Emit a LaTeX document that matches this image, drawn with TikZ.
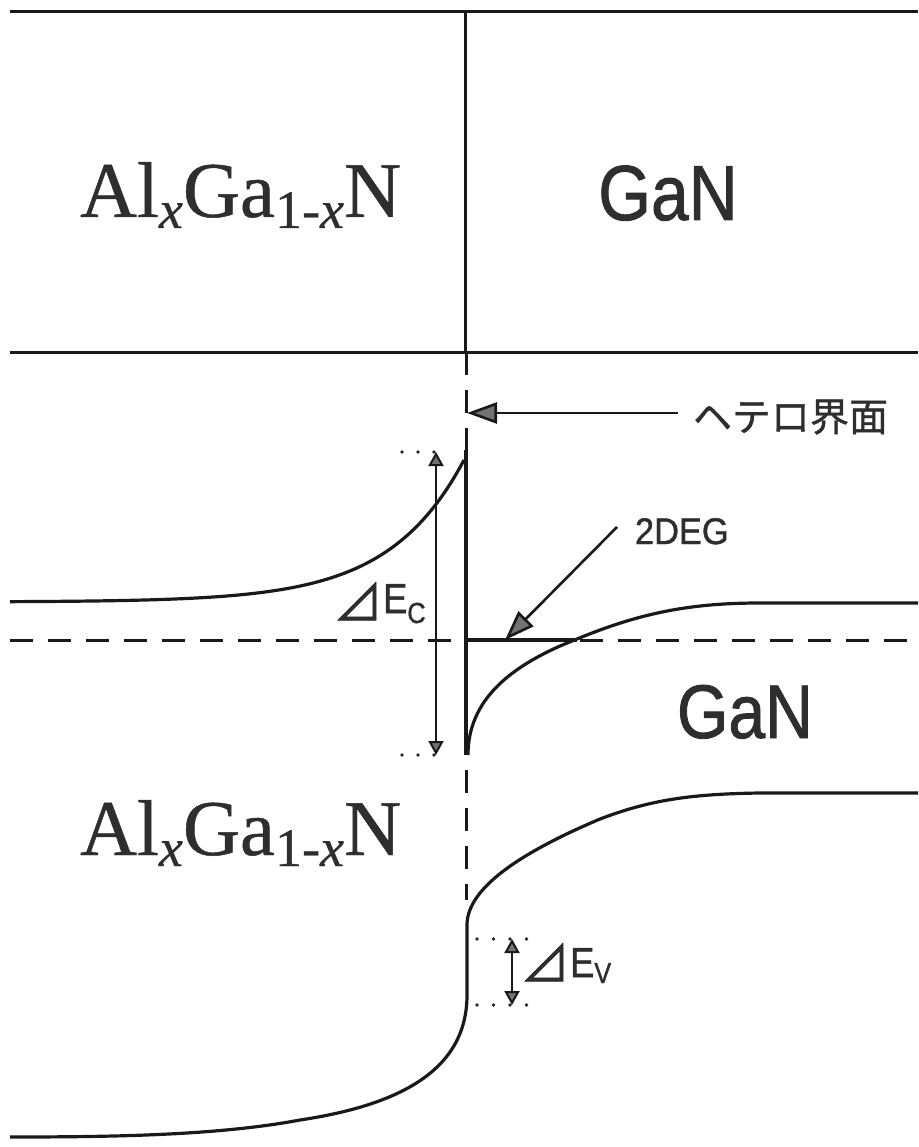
\documentclass[tikz,border=0pt]{standalone}
\usepackage{fontspec}
\setmainfont{Liberation Serif}[FakeBold=0.6]
\newfontfamily\sansf{Liberation Sans}[FakeBold=1.2]
\newfontfamily\cjk{Noto Sans CJK JP}[FakeBold=1]
\usetikzlibrary{arrows.meta}
\newcommand\mysub[1]{\raisebox{-11pt}{\fontsize{54}{54}\selectfont #1}}
\newcommand\alganlabel{Al\mysub{\itshape x}Ga\mysub{1-\itshape x}N}
\begin{document}
\begin{tikzpicture}[x=1pt,y=-1pt,line join=round]
\useasboundingbox (0,0) rectangle (918,1147);
\tikzset{
  band/.style={line width=3.2pt, black!90},
  frame/.style={line width=3pt, black!90},
  dashline/.style={line width=3pt, black!90, dash pattern=on 23pt off 15pt},
  dotline/.style={line width=3.6pt, line cap=round, dash pattern=on 0pt off 16pt, black!85},
  ptr/.style={line width=2.6pt, black!90, -{Triangle[length=30pt,width=21pt,fill=black!55]}},
  dbl/.style={line width=2pt, black!90, {Triangle[length=14pt,width=15pt,fill=black!55]}-{Triangle[length=14pt,width=15pt,fill=black!55]}},
  lbl/.style={inner sep=0pt, outer sep=0pt, text=black!82},
}
% frame of the layer picture
\draw[frame] (10,12) -- (918,12);
\draw[frame] (465,12) -- (465,352);
\draw[frame] (10,352) -- (918,352);
% interface (dashed) and Fermi level
\draw[dashline] (466,352) -- (466,900);
\draw[dashline] (10,640) -- (918,640);
% conduction band
\draw[band] plot[domain=10:464, samples=120] (\x, {602-142*exp((\x-464)/75)});
\draw[band] (466,450) -- (466,755);
\draw[band] (468,755) .. controls (468,700) and (510,665) .. (577,639)
            .. controls (640,613) and (690,603) .. (760,603) -- (918,603);
\draw[band] (468,640) -- (577,640);
% valence band
\draw[band] (918,793) -- (760,793) .. controls (690,794) and (650,800) .. (600,819)
            .. controls (515,855) and (467,890) .. (467,925) -- (467,995)
            .. controls (467,1070) and (400,1105) .. (300,1120)
            .. controls (220,1135) and (120,1137) .. (10,1137);
% delta Ec
\coordinate (ectop) at (436,452);
\coordinate (ecbot) at (436,755);
\draw[dotline] (402,452) -- (450,452);
\draw[dotline] (402,755) -- (450,755);
\draw[dbl] (ectop) -- (ecbot);
% delta Ev
\coordinate (evtop) at (512,939);
\coordinate (evbot) at (512,1005);
\draw[dotline, dash pattern=on 0pt off 16.5pt] (477,939) -- (543,939);
\draw[dotline, dash pattern=on 0pt off 16.5pt] (477,1005) -- (543,1005);
\draw[dbl] (evtop) -- (evbot);
% labels
\node[lbl, anchor=base west, font=\fontsize{79}{79}\selectfont] (al1) at (80,217) {\alganlabel};
\node[lbl, anchor=base west, font=\fontsize{79}{79}\selectfont] (al2) at (80,855) {\alganlabel};
\node[lbl, anchor=base, font=\sansf\fontsize{78}{78}\selectfont] (gan1) at (668,220) {\scalebox{0.87}[1]{GaN}};
\node[lbl, anchor=base west, font=\sansf\fontsize{76}{76}\selectfont] (gan2) at (677,738) {\scalebox{0.87}[1]{GaN}};
\node[lbl, anchor=west, font=\cjk\fontsize{39}{39}\selectfont] (hetero) at (693,417) {ヘテロ界面};
\node[lbl, anchor=base west, font=\sansf\fontsize{37}{37}\selectfont] (deg) at (635,544) {\scalebox{0.93}[1]{2DEG}};
\node[lbl, anchor=base west] (dEc) at (333,613)
  {\raisebox{-8pt}{\cjk\fontsize{50}{50}\selectfont ⊿}{\sansf\fontsize{42}{42}\selectfont\scalebox{0.87}[1]{E}}\raisebox{-10pt}{\sansf\fontsize{29}{29}\selectfont\scalebox{0.87}[1]{C}}};
\node[lbl, anchor=base west] (dEv) at (520,977)
  {\raisebox{-5pt}{\cjk\fontsize{50}{50}\selectfont ⊿}{\sansf\fontsize{42}{42}\selectfont\scalebox{0.87}[1]{E}}\raisebox{-6pt}{\sansf\fontsize{29}{29}\selectfont\scalebox{0.87}[1]{V}}};
% pointers
\coordinate (ifc) at (467,413);
\coordinate (hetail) at (678,413);
\draw[ptr] (hetail) -- (ifc);
\coordinate (degtail) at (617,527);
\coordinate (degtip) at (505,640);
\draw[ptr] (degtail) -- (degtip);
\end{tikzpicture}
\end{document}
